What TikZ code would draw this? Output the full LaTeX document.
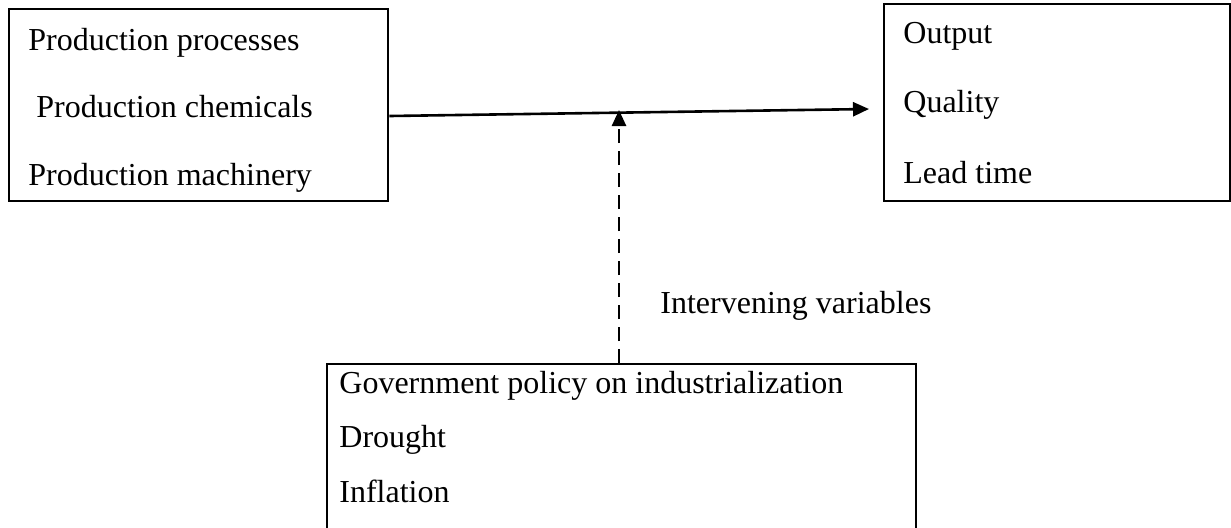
\documentclass[tikz,border=0pt]{standalone}
\usepackage{fontspec}
\setmainfont{Liberation Serif}
\usetikzlibrary{arrows.meta, positioning}

\tikzset{
  varbox/.style={draw, line width=1.2pt, inner sep=0pt, anchor=north west},
  item/.style={anchor=base west, inner sep=0pt}
}

\begin{document}
\begin{tikzpicture}[x=0.5pt, y=-0.5pt, >={Triangle[length=8pt, width=7pt]},
                    font=\fontsize{16}{19}\selectfont]
  \useasboundingbox (0,0) rectangle (1231,527);

  % Independent variables
  \node[varbox, minimum width=189.5pt, minimum height=96pt] (inputs) at (8,8) {};
  \node[item] (proc) at (28,50) {Production processes};
  \node[item] (chem) at (36,117) {Production chemicals};
  \node[item] (mach) at (28,185) {Production machinery};

  % Dependent variables
  \node[varbox, minimum width=173pt, minimum height=98.5pt] (outputs) at (883,3) {};
  \node[item] (out) at (903,43) {Output};
  \node[item] (qual) at (903,112) {Quality};
  \node[item] (lead) at (903,183) {Lead time};

  % Intervening variables
  \node[varbox, minimum width=294.5pt, minimum height=100pt] (interv) at (326,363) {};
  \node[item] (gov) at (339,393) {Government policy on industrialization};
  \node[item] (drought) at (339,447) {Drought};
  \node[item] (infl) at (339,502) {Inflation};
  \node[item] (ivlabel) at (660,313) {Intervening variables};

  % Connectors
  \coordinate (start) at (inputs.east |- 0,116);
  \coordinate (tip) at (869,109);
  \coordinate (meet) at (619,110);
  \coordinate (tap) at (619,363);
  \draw[->, line width=1.3pt] (start) -- (tip);
  \draw[->, line width=1.3pt, dash pattern=on 7pt off 4pt] (tap) -- (meet);
\end{tikzpicture}
\end{document}
